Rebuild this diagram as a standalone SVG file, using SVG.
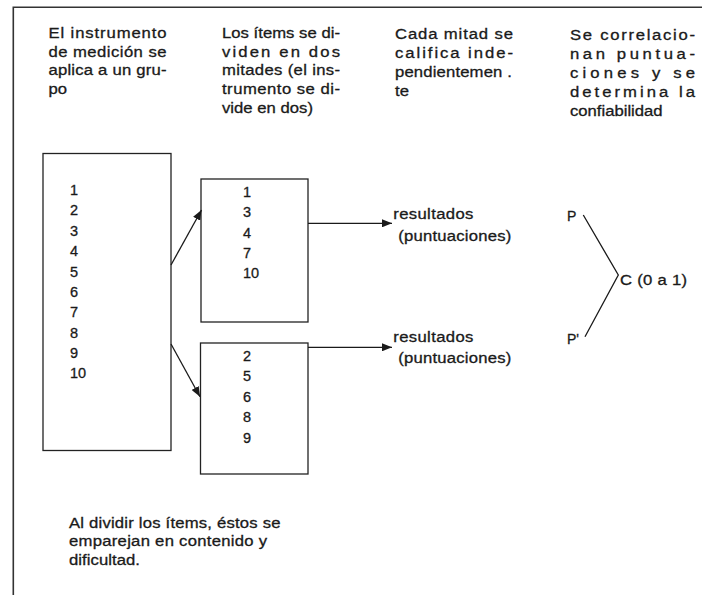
<svg xmlns="http://www.w3.org/2000/svg" width="702" height="595" viewBox="0 0 702 595">
<style>
text{font-family:"Liberation Sans",Arial,Helvetica,sans-serif;font-size:14.5px;fill:#1a1a1a;stroke:#1a1a1a;stroke-width:0.3}
.box{fill:none;stroke:#222;stroke-width:1.3}
.frame{fill:none;stroke:#333;stroke-width:1.6}
.con{fill:none;stroke:#1a1a1a;stroke-width:1.3}
</style>
<defs>
<marker id="ah" viewBox="0 0 10 8" markerWidth="10" markerHeight="8" refX="10" refY="4" orient="auto" markerUnits="userSpaceOnUse">
<path d="M0,0 L10,4 L0,8 z" fill="#1a1a1a"/>
</marker>
</defs>
<rect width="702" height="595" fill="#fff"/>
<path class="frame" d="M13.3,595 L13.3,7.3 L702,7.3"/>

<g id="h1" transform="translate(48.5,0) scale(1.15,1)">
<text x="0" y="38" textLength="102.6" lengthAdjust="spacing">El instrumento</text>
<text x="0" y="56.7" textLength="102.6" lengthAdjust="spacing">de medición se</text>
<text x="0" y="75.5" textLength="102.6" lengthAdjust="spacing">aplica a un gru-</text>
<text x="0" y="94.2">po</text>
</g>
<g id="h2" transform="translate(222,0) scale(1.15,1)">
<text x="0" y="38" textLength="102.6" lengthAdjust="spacing">Los ítems se di-</text>
<text x="0" y="56.7" textLength="102.6" lengthAdjust="spacing">viden en dos</text>
<text x="0" y="75.5" textLength="102.6" lengthAdjust="spacing">mitades (el ins-</text>
<text x="0" y="94.2" textLength="102.6" lengthAdjust="spacing">trumento se di-</text>
<text x="0" y="113" textLength="79.1" lengthAdjust="spacing">vide en dos)</text>
</g>
<g id="h3" transform="translate(395,0) scale(1.15,1)">
<text x="0" y="39.5" textLength="102.6" lengthAdjust="spacing">Cada mitad se</text>
<text x="0" y="58.2" textLength="102.6" lengthAdjust="spacing">califica inde-</text>
<text x="0" y="77" textLength="101.7" lengthAdjust="spacing">pendientemen .</text>
<text x="0" y="95.7">te</text>
</g>
<g id="h4" transform="translate(570,0) scale(1.15,1)">
<text x="0" y="40.5" textLength="108.7" lengthAdjust="spacing">Se correlacio-</text>
<text x="0" y="59.4" textLength="108.7" lengthAdjust="spacing">nan puntua-</text>
<text x="0" y="78.3" textLength="108.7" lengthAdjust="spacing">ciones y se</text>
<text x="0" y="97.2" textLength="108.7" lengthAdjust="spacing">determina la</text>
<text x="0" y="116">confiabilidad</text>
</g>

<g id="n-all">
<rect class="box" x="43" y="153.5" width="128" height="297"/>
<text x="70"><tspan x="70" y="195">1</tspan><tspan x="70" y="215.4">2</tspan><tspan x="70" y="235.7">3</tspan><tspan x="70" y="256.1">4</tspan><tspan x="70" y="276.5">5</tspan><tspan x="70" y="296.9">6</tspan><tspan x="70" y="317.2">7</tspan><tspan x="70" y="337.6">8</tspan><tspan x="70" y="358">9</tspan><tspan x="70" y="378.3">10</tspan></text>
</g>
<g id="n-half1">
<rect class="box" x="201" y="179" width="107" height="143"/>
<text x="243"><tspan x="243" y="197">1</tspan><tspan x="243" y="217.3">3</tspan><tspan x="243" y="237.6">4</tspan><tspan x="243" y="257.9">7</tspan><tspan x="243" y="278.2">10</tspan></text>
</g>
<g id="n-half2">
<rect class="box" x="200.5" y="343" width="107.5" height="131"/>
<text x="243"><tspan x="243" y="361">2</tspan><tspan x="243" y="381.4">5</tspan><tspan x="243" y="401.8">6</tspan><tspan x="243" y="422.2">8</tspan><tspan x="243" y="442.6">9</tspan></text>
</g>
<g id="n-res1" transform="translate(393.3,0) scale(1.15,1)">
<text x="0" y="219" textLength="69.6" lengthAdjust="spacing">resultados</text>
<text x="4.35" y="241.5" textLength="98.3" lengthAdjust="spacing">(puntuaciones)</text>
</g>
<g id="n-res2" transform="translate(393.3,0) scale(1.15,1)">
<text x="0" y="342" textLength="69.6" lengthAdjust="spacing">resultados</text>
<text x="4.35" y="363.5" textLength="98.3" lengthAdjust="spacing">(puntuaciones)</text>
</g>
<g id="n-corr">
<text x="567" y="221" style="font-size:14px">P</text>
<text x="567" y="343.5" style="font-size:14px">P'</text>
<path class="con" d="M583.3,215 L618.3,275 L585,336.7"/>
<g transform="translate(620,0) scale(1.15,1)">
<text x="0" y="285.5" textLength="58.3" lengthAdjust="spacing">C (0 a 1)</text>
</g>
</g>

<g id="connectors">
<line class="con" x1="171" y1="265" x2="201.5" y2="210" marker-end="url(#ah)"/>
<line class="con" x1="171" y1="344" x2="200" y2="396.7" marker-end="url(#ah)"/>
<line class="con" x1="308" y1="223.3" x2="392" y2="223.3" marker-end="url(#ah)"/>
<line class="con" x1="308" y1="347.3" x2="392" y2="347.3" marker-end="url(#ah)"/>
</g>

<g id="note" transform="translate(69,0) scale(1.15,1)">
<text x="0" y="528" textLength="183.9" lengthAdjust="spacing">Al dividir los ítems, éstos se</text>
<text x="0" y="546.5" textLength="172.2" lengthAdjust="spacing">emparejan en contenido y</text>
<text x="0" y="565" textLength="61.7" lengthAdjust="spacing">dificultad.</text>
</g>
</svg>
